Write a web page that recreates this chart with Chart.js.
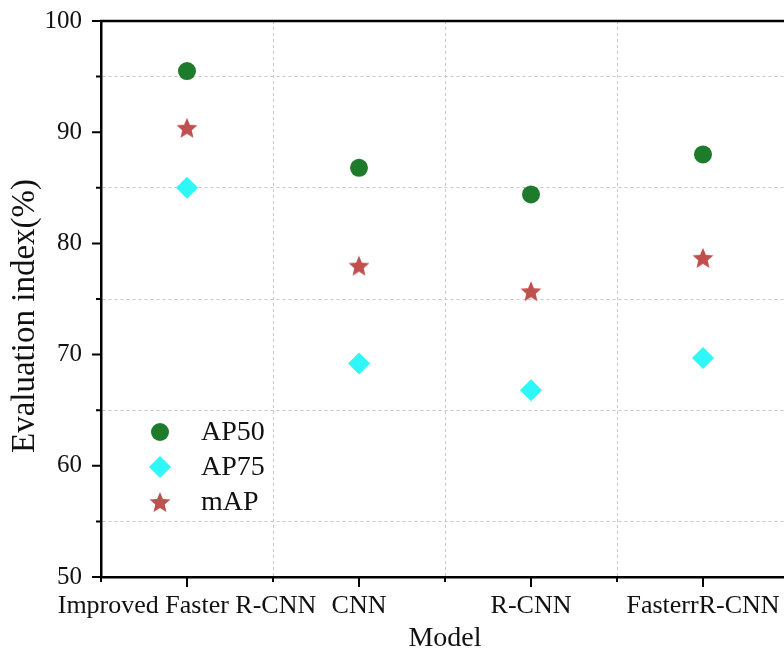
<!DOCTYPE html>
<html>
<head>
<meta charset="utf-8">
<script src="https://cdn.jsdelivr.net/npm/chart.js@4.4.0/dist/chart.umd.min.js"></script>
<style>
    html, body { margin: 0; padding: 0; background: #fff; }
    #wrap { width: 784px; height: 655px; overflow: hidden; }
</style>
</head>
<body>
<div id="wrap">
    <canvas id="scoreChart" width="800" height="655"></canvas>
</div>
<script>
const models = ['Improved Faster R-CNN', 'CNN', 'R-CNN', 'FasterrR-CNN'];
const ap50 = [95.5, 86.8, 84.4, 88.0];
const ap75 = [85.0, 69.2, 66.8, 69.7];
const mAP = [90.4, 78.0, 75.7, 78.7];
const yTicks = [50, 55, 60, 65, 70, 75, 80, 85, 90, 95, 100];
const yTitle = 'Evaluation index(%)';

const serif = "'Liberation Serif', 'Times New Roman', serif";

// filled five-point star used as a point style
function makeStar(r, color) {
    const size = Math.ceil(r * 2 + 2);
    const c = document.createElement('canvas');
    c.width = size;
    c.height = size;
    const g = c.getContext('2d');
    const cx = size / 2, cy = size / 2 + 1;
    g.beginPath();
    for (let i = 0; i < 10; i++) {
        const rad = i % 2 === 0 ? r : r * 0.45;
        const a = -Math.PI / 2 + i * Math.PI / 5;
        g.lineTo(cx + rad * Math.cos(a), cy + rad * Math.sin(a));
    }
    g.closePath();
    g.fillStyle = color;
    g.fill();
    return c;
}

const starImg = makeStar(11, '#c0504d');

// tick marks, top frame line, y title and the inset legend
const framePlugin = {
    id: 'frame',
    afterDraw(chart) {
        const { ctx, chartArea: a, scales: { x, y } } = chart;
        ctx.save();
        ctx.strokeStyle = '#000';
        ctx.lineWidth = 2.5;
        ctx.beginPath();
        ctx.moveTo(a.left - 1, a.top);
        ctx.lineTo(a.right, a.top);
        ctx.stroke();

        ctx.lineWidth = 2;
        ctx.beginPath();
        yTicks.forEach(v => {
            const py = y.getPixelForValue(v);
            const len = v % 10 === 0 ? 9 : 5;
            ctx.moveTo(a.left - len, py);
            ctx.lineTo(a.left, py);
        });
        models.forEach((m, i) => {
            const px = x.getPixelForValue(i);
            ctx.moveTo(px, a.bottom);
            ctx.lineTo(px, a.bottom + 10);
        });
        for (let i = 0; i <= models.length; i++) {
            const px = x.getPixelForValue(i - 0.5);
            ctx.moveTo(px, a.bottom);
            ctx.lineTo(px, a.bottom + 5);
        }
        ctx.stroke();

        // y axis title, sitting a little below the plot's middle
        ctx.save();
        ctx.translate(25, (a.top + a.bottom) / 2 + 17);
        ctx.rotate(-Math.PI / 2);
        ctx.font = '33px ' + serif;
        ctx.textAlign = 'center';
        ctx.textBaseline = 'middle';
        ctx.fillStyle = '#111';
        ctx.fillText(yTitle, 0, 0);
        ctx.restore();

        // legend
        const lx = a.left + 59;
        let ly = a.top + 411;
        ctx.font = '28px ' + serif;
        ctx.textBaseline = 'middle';
        chart.data.datasets.forEach(ds => {
            const style = ds.pointStyle;
            ctx.fillStyle = ds.backgroundColor;
            if (style === 'circle') {
                ctx.beginPath();
                ctx.arc(lx, ly, ds.pointRadius, 0, Math.PI * 2);
                ctx.fill();
            } else if (style === 'rectRot') {
                const r = ds.pointRadius;
                ctx.beginPath();
                ctx.moveTo(lx, ly - r);
                ctx.lineTo(lx + r, ly);
                ctx.lineTo(lx, ly + r);
                ctx.lineTo(lx - r, ly);
                ctx.closePath();
                ctx.fill();
            } else {
                ctx.drawImage(style, lx - style.width / 2, ly - style.height / 2);
            }
            ctx.fillStyle = '#111';
            ctx.fillText(ds.label, lx + 41, ly + 1);
            ly += 35;
        });
        ctx.restore();
    }
};

new Chart(document.getElementById('scoreChart'), {
    type: 'scatter',
    data: {
        labels: models,
        datasets: [
            {
                label: 'AP50',
                data: ap50,
                pointStyle: 'circle',
                pointRadius: 9,
                backgroundColor: '#1e7b2c',
                borderWidth: 0
            },
            {
                label: 'AP75',
                data: ap75,
                pointStyle: 'rectRot',
                pointRadius: 11,
                backgroundColor: '#30f7f7',
                borderWidth: 0
            },
            {
                label: 'mAP',
                data: mAP,
                pointStyle: starImg,
                pointRadius: 11,
                backgroundColor: '#c0504d',
                borderWidth: 0
            }
        ]
    },
    options: {
        responsive: false,
        animation: false,
        showLine: false,
        layout: { padding: { top: 21, right: 11, left: 0, bottom: 0 } },
        plugins: {
            legend: { display: false },
            tooltip: { enabled: false }
        },
        scales: {
            x: {
                type: 'category',
                offset: true,
                afterFit: s => {
                    s.height = 78;
                    s.paddingLeft = 0;
                    s.paddingRight = 0;
                },
                grid: { offset: true, drawTicks: false, color: '#c8c8c8', lineWidth: 1 },
                border: { color: '#000', width: 2.5, dash: [3, 3] },
                ticks: {
                    autoSkip: false,
                    maxRotation: 0,
                    minRotation: 0,
                    padding: 14,
                    color: '#111',
                    font: { family: serif, size: 26 }
                },
                title: {
                    display: true,
                    text: 'Model',
                    color: '#111',
                    padding: { top: 0, bottom: 0 },
                    font: { family: serif, size: 28 }
                }
            },
            y: {
                min: 50,
                max: 100,
                afterFit: s => {
                    s.width = 101;
                    s.paddingTop = 0;
                    s.paddingBottom = 0;
                },
                afterBuildTicks: s => { s.ticks = yTicks.map(v => ({ value: v })); },
                grid: {
                    drawTicks: false,
                    lineWidth: 1,
                    color: c => (c.tick && c.tick.value % 10 !== 0) ? '#c8c8c8' : 'rgba(0,0,0,0)'
                },
                border: { color: '#000', width: 2.5, dash: [3, 3] },
                ticks: {
                    padding: 19,
                    color: '#111',
                    font: { family: serif, size: 25 },
                    callback: v => v % 10 === 0 ? v : ''
                }
            }
        }
    },
    plugins: [framePlugin]
});
</script>
</body>
</html>
